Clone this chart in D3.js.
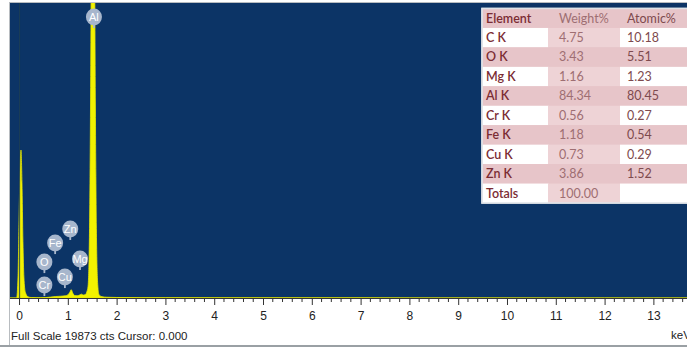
<!DOCTYPE html>
<html><head><meta charset="utf-8">
<script src="https://cdn.jsdelivr.net/npm/d3@7"></script>
<style>html,body{margin:0;padding:0;background:#fff;}svg{display:block;}</style>
</head><body>
<script>
// ---- data ----
const fullScale = 19873;
const energies = [-0.2,-0.05,-0.02,0.0,0.02,0.04,0.06,0.08,0.10,0.13,0.18,0.25,0.35,0.45,0.55,0.65,0.75,0.85,0.95,1.0,1.04,1.07,1.10,1.14,1.19,1.24,1.28,1.32,1.36,1.39,1.415,1.425,1.435,1.445,1.455,1.465,1.475,1.485,1.495,1.505,1.515,1.525,1.535,1.545,1.555,1.565,1.575,1.585,1.595,1.605,1.615,1.625,1.635,1.655,1.7,1.8,2.0,2.5,3.0,4.0,5.0,6.0,8.0,10.0,12.0,14.0];
const counts   = [0,0,1500,5200,8600,9970,7800,3800,1400,380,90,30,20,20,30,60,100,120,150,210,380,560,330,170,150,200,260,200,230,420,800,1400,2600,4700,8200,12800,18800,25500,31500,35800,37500,35800,31500,25500,18800,12800,8200,4700,2600,1400,800,420,260,160,90,50,35,25,20,15,12,10,8,6,5,4];
const xTicks = [0,1,2,3,4,5,6,7,8,9,10,11,12,13];
const peakLabels = ["Al","Zn","Fe","O","Mg","Cu","Cr"];
const peakLabelE = [1.535,1.05,0.74,0.52,1.25,0.94,0.52];
const peakLabelC = [18930,4650,3700,2420,2630,1410,870];
const tableHeader = ["Element","Weight%","Atomic%"];
const elements = ["C K","O K","Mg K","Al K","Cr K","Fe K","Cu K","Zn K","Totals"];
const weightPct = ["4.75","3.43","1.16","84.34","0.56","1.18","0.73","3.86","100.00"];
const atomicPct = ["10.18","5.51","1.23","80.45","0.27","0.54","0.29","1.52",""];

// ---- layout ----
const W = 687, H = 349;
const plot = {left: 10, top: 3, right: 687, bottom: 298};
const svg = d3.select("body").append("svg").attr("width", W).attr("height", H);

const x = d3.scaleLinear().domain([-0.185, 13.689]).range([plot.left, plot.right]);
const y = d3.scaleLinear().domain([0, fullScale]).range([plot.bottom, plot.top]);

const defs = svg.append("defs");
defs.append("clipPath").attr("id","clip")
  .append("rect").attr("x",plot.left).attr("y",plot.top)
  .attr("width",plot.right-plot.left).attr("height",plot.bottom-plot.top);
const blur = defs.append("filter").attr("id","soft").attr("x","-30%").attr("y","-30%").attr("width","160%").attr("height","160%");
blur.append("feGaussianBlur").attr("stdDeviation",0.6);

// outer frame
svg.append("rect").attr("x",9.5).attr("y",2.5).attr("width",W-9).attr("height",343)
  .attr("fill","#fff").attr("stroke","#b8bcc0");
svg.append("rect").attr("x",0).attr("y",345).attr("width",W).attr("height",2).attr("fill","#9aa0a4");

// plot background
svg.append("rect").attr("x",plot.left).attr("y",plot.top)
  .attr("width",plot.right-plot.left).attr("height",plot.bottom-plot.top)
  .attr("fill","#0c3466");

// spectrum
const pts = energies.map((e,i)=>[e,counts[i]]);
const area = d3.area().x(d=>x(d[0])).y0(plot.bottom).y1(d=>y(d[1])).curve(d3.curveMonotoneX);
const g = svg.append("g").attr("clip-path","url(#clip)");
g.append("path").datum(pts).attr("d",area).attr("fill","#f2f200")
  .attr("stroke","#e8e800").attr("stroke-width",0.8);
// cursor line at 0
g.append("line").attr("x1",x(0)+0.5).attr("x2",x(0)+0.5).attr("y1",plot.top).attr("y2",plot.bottom)
  .attr("stroke","#1d3f52").attr("stroke-opacity",0.8).attr("stroke-width",1.2);

// peak labels
peakLabels.forEach((lab,i)=>{
  const cx = x(peakLabelE[i]), cy = y(peakLabelC[i]);
  const lg = svg.append("g");
  lg.append("line").attr("x1",cx).attr("x2",cx).attr("y1",cy).attr("y2",cy+11)
    .attr("stroke","#a9b7cc").attr("stroke-width",1.8);
  lg.append("ellipse").attr("cx",cx).attr("cy",cy).attr("rx",8).attr("ry",8.5)
    .attr("fill","#a7b6cc").attr("filter","url(#soft)");
  lg.append("text").attr("x",cx).attr("y",cy+4).attr("text-anchor","middle")
    .attr("font-family","Liberation Sans, Arial, sans-serif").attr("font-size",11)
    .attr("fill","#fff").text(lab);
});

// axis
const axisG = svg.append("g").attr("transform",`translate(0,${plot.bottom})`);
axisG.append("line").attr("x1",plot.left).attr("x2",plot.right).attr("y1",0.5).attr("y2",0.5)
  .attr("stroke","#333").attr("stroke-width",1);
const minor = d3.range(0, 13.7, 0.2).filter(v=>Math.abs(v-Math.round(v))>1e-6);
axisG.selectAll("line.minor").data(minor).join("line").attr("class","minor")
  .attr("x1",d=>x(d)).attr("x2",d=>x(d)).attr("y1",1).attr("y2",4)
  .attr("stroke","#333").attr("stroke-width",1);
const axis = d3.axisBottom(x).tickValues(xTicks).tickSize(7).tickPadding(6).tickFormat(d3.format("d"));
const ax = axisG.append("g").call(axis);
ax.select(".domain").remove();
ax.selectAll("line").attr("stroke","#333");
ax.selectAll("text").attr("font-family","Liberation Sans, Arial, sans-serif").attr("font-size",12).attr("fill","#222");

svg.append("text").attr("x",11).attr("y",340).attr("font-family","Liberation Sans, Arial, sans-serif")
  .attr("font-size",11.5).attr("fill","#222").text("Full Scale 19873 cts Cursor: 0.000");
svg.append("text").attr("x",671).attr("y",339).attr("font-family","Liberation Sans, Arial, sans-serif")
  .attr("font-size",11.5).attr("fill","#222").text("keV");

// table
const tX = [482, 548, 620, 681], tY0 = 8.5, rowH = 19.45;
const tbl = svg.append("g");
const rows = [tableHeader].concat(elements.map((e,i)=>[e, weightPct[i], atomicPct[i]]));
tbl.append("rect").attr("x",tX[0]).attr("y",tY0).attr("width",W-tX[0]+2).attr("height",rowH*rows.length)
  .attr("fill","#e7c5c9").attr("stroke","#d8dde4").attr("stroke-width",1.5);
const textCol = ["#7b2c33","#9e6e72","#7e4a4e"];
rows.forEach((r,ri)=>{
  const ry = tY0 + ri*rowH;
  const white = ri>0 && ri%2===1;
  for (let c=0;c<3;c++){
    let fill;
    if (white && c!==1) fill = "#ffffff";
    else if (white && c===1) fill = "#eed3d6";
    else fill = "#e7c5c9";
    tbl.append("rect").attr("x",tX[c]+(c===0?0.5:0)).attr("y",ry+(ri===0?0.5:0))
      .attr("width",(c===2? W-tX[c] : tX[c+1]-tX[c])).attr("height",rowH-(ri===0?0.5:0)).attr("fill",fill);
    tbl.append("text").attr("x",tX[c]+(c===0?4:(c===1?11:7))).attr("y",ry+14)
      .attr("font-family","Lato, 'Open Sans', sans-serif").attr("font-size",12.5)
      .attr("font-weight", c===0 ? 600 : 400)
      .attr("fill",textCol[c]).text(r[c]);
  }
});
tbl.append("rect").attr("x",tX[0]).attr("y",tY0).attr("width",W-tX[0]+2).attr("height",rowH*rows.length)
  .attr("fill","none").attr("stroke","#dfe3e8").attr("stroke-width",1.5);
</script>
</body></html>
